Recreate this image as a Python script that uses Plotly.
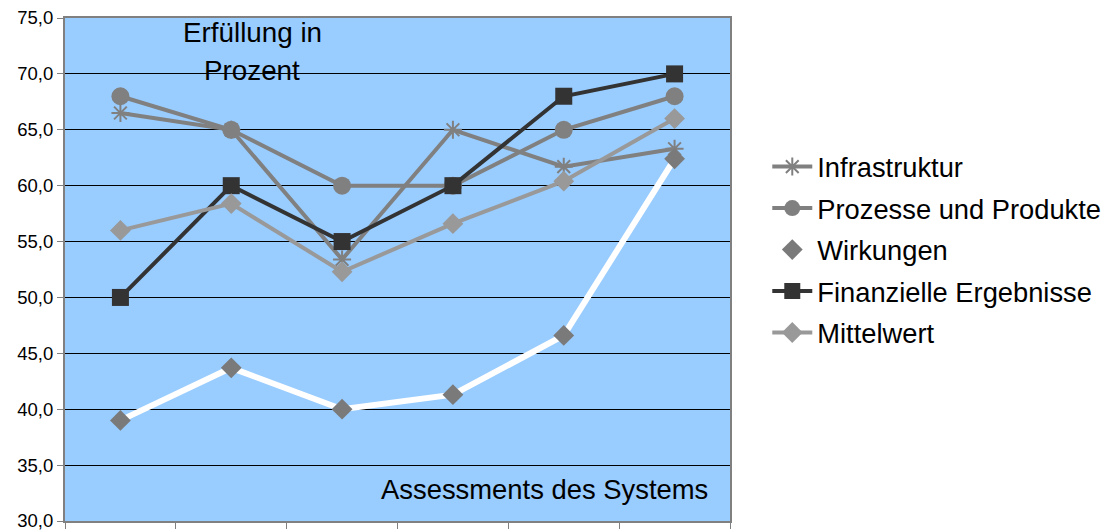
import plotly.graph_objects as go

# Six assessments of the system (x positions 0..5)
assessments = [0, 1, 2, 3, 4, 5]

infrastruktur = [66.5, 65.0, 53.4, 65.0, 61.7, 63.3]
prozesse = [68.0, 65.0, 60.0, 60.0, 65.0, 68.0]
wirkungen = [39.0, 43.7, 40.0, 41.3, 46.6, 62.4]
finanzen = [50.0, 60.0, 55.0, 60.0, 68.0, 70.0]
mittelwert = [56.0, 58.4, 52.3, 56.6, 60.4, 66.0]

y_ticks = [30, 35, 40, 45, 50, 55, 60, 65, 70, 75]

FONT = "Liberation Sans, Arial, sans-serif"

fig = go.Figure()

fig.add_trace(go.Scatter(
    x=assessments, y=infrastruktur, name="Infrastruktur", legendgroup="a",
    mode="lines+markers",
    line=dict(color="#808080", width=4),
    marker=dict(symbol="asterisk-open", size=15, color="#808080",
                line=dict(color="#808080", width=2)),
))
fig.add_trace(go.Scatter(
    x=assessments, y=prozesse, name="Prozesse und Produkte", legendgroup="b",
    mode="lines+markers",
    line=dict(color="#808080", width=4),
    marker=dict(symbol="circle", size=18, color="#808080"),
))
fig.add_trace(go.Scatter(
    x=assessments, y=wirkungen, name="Wirkungen", legendgroup="c",
    mode="lines+markers",
    line=dict(color="#FFFFFF", width=6),
    marker=dict(symbol="diamond", size=16, color="#7a7a7a"),
))
fig.add_trace(go.Scatter(
    x=assessments, y=finanzen, name="Finanzielle Ergebnisse", legendgroup="d",
    mode="lines+markers",
    line=dict(color="#333333", width=4),
    marker=dict(symbol="square", size=17, color="#333333"),
))
fig.add_trace(go.Scatter(
    x=assessments, y=mittelwert, name="Mittelwert", legendgroup="e",
    mode="lines+markers",
    line=dict(color="#999999", width=4),
    marker=dict(symbol="diamond", size=16, color="#999999"),
))

fig.update_layout(
    width=1112, height=531,
    margin=dict(l=65, r=382, t=18, b=10),
    paper_bgcolor="#FFFFFF",
    plot_bgcolor="#99CCFF",
    separators=",.",
    font=dict(family=FONT, color="#000000"),
    showlegend=True,
    legend=dict(
        xref="container", yref="container",
        x=0.690, xanchor="left", y=0.732, yanchor="top",
        font=dict(family=FONT, size=27.3, color="#000000"),
        itemwidth=40,
        tracegroupgap=3, bgcolor="rgba(0,0,0,0)",
    ),
    xaxis=dict(
        range=[-0.5, 5.5],
        tickvals=[-0.5, 0.5, 1.5, 2.5, 3.5, 4.5, 5.5],
        ticktext=[""] * 7,
        ticks="outside", ticklen=6, tickcolor="#808080",
        showgrid=False, zeroline=False, automargin=False,
        showline=True, linecolor="#808080", linewidth=2, mirror=True,
    ),
    yaxis=dict(
        range=[30, 75],
        tickvals=y_ticks,
        tickformat=".1f",
        ticks="outside", ticklen=6, tickcolor="#808080",
        tickfont=dict(family=FONT, size=18.5, color="#000000"),
        ticklabeloverflow="allow",
        showgrid=True, gridcolor="#000000", gridwidth=1,
        zeroline=False, automargin=False,
        showline=True, linecolor="#808080", linewidth=2, mirror=True,
    ),
    annotations=[
        dict(text="Erfüllung in", x=1.19, y=73.66, xref="x", yref="y",
             showarrow=False, font=dict(family=FONT, size=27.8)),
        dict(text="Prozent", x=1.19, y=70.26, xref="x", yref="y",
             showarrow=False, font=dict(family=FONT, size=27.8)),
        dict(text="Assessments des Systems", x=3.83, y=32.78, xref="x", yref="y",
             showarrow=False, font=dict(family=FONT, size=27.4)),
    ],
)

fig.write_html("out.html")
